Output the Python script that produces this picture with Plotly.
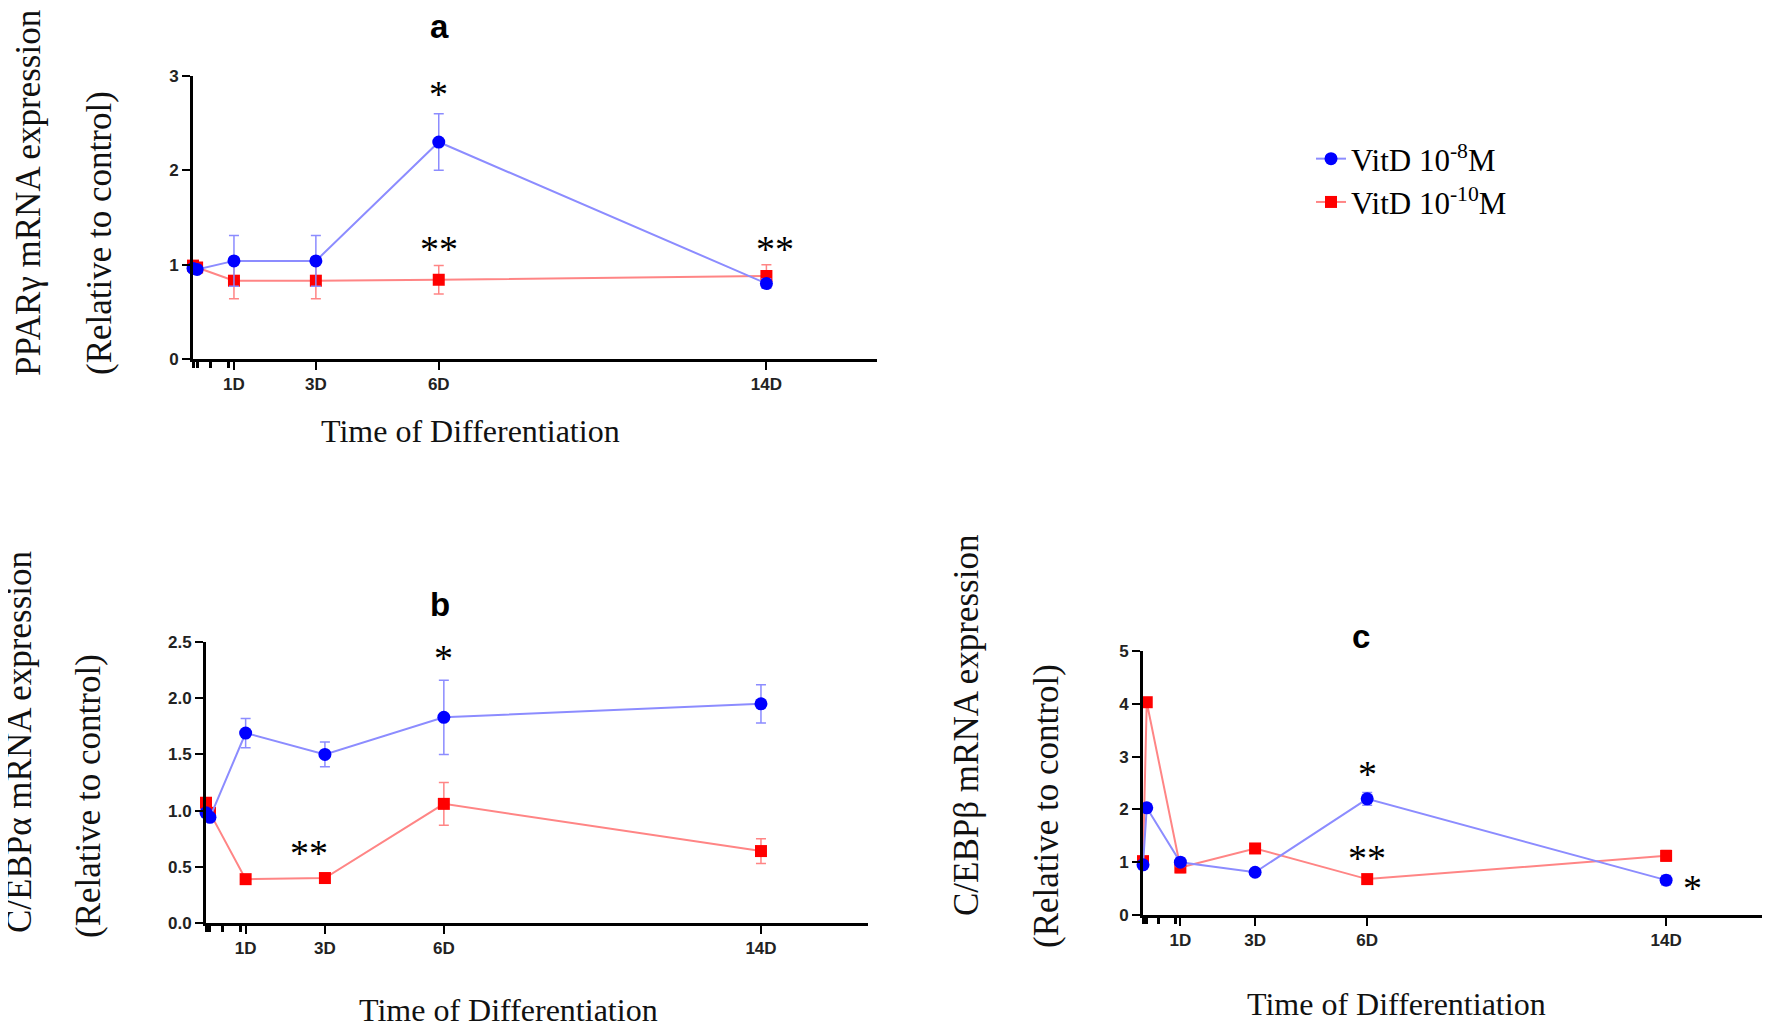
import plotly.graph_objects as go

# %%
# time points in days (first two are the early hour samples)
time_days = [0, 0.1, 1, 3, 6, 14]
tick_days = [1, 3, 6, 14]
tick_labels = ["1D", "3D", "6D", "14D"]
minor_days = [0, 0.1, 0.42, 0.87]

series_names = ["VitD 10<sup>-8</sup>M", "VitD 10<sup>-10</sup>M"]

# a: PPARg
pparg_high = [0.96, 0.95, 1.04, 1.04, 2.30, 0.80]
pparg_high_err = [0.02, 0.02, 0.27, 0.27, 0.30, 0.05]
pparg_low = [0.99, 0.97, 0.83, 0.83, 0.84, 0.88]
pparg_low_err = [0.02, 0.02, 0.19, 0.19, 0.15, 0.12]

# b: C/EBPa
cebpa_high = [0.98, 0.94, 1.69, 1.50, 1.83, 1.95]
cebpa_high_err = [0.02, 0.02, 0.13, 0.11, 0.33, 0.17]
cebpa_low = [1.07, 0.98, 0.39, 0.40, 1.06, 0.64]
cebpa_low_err = [0.02, 0.02, 0.02, 0.02, 0.19, 0.11]

# c: C/EBPb
cebpb_high = [0.95, 2.03, 1.00, 0.81, 2.20, 0.66]
cebpb_high_err = [0.03, 0.05, 0.08, 0.04, 0.12, 0.09]
cebpb_low = [1.02, 4.03, 0.90, 1.26, 0.68, 1.12]
cebpb_low_err = [0.03, 0.05, 0.10, 0.08, 0.04, 0.10]

# significance marks
sig_panel = ["a", "a", "a", "b", "b", "c", "c", "c"]
sig_x = [6, 6, 14.2, 6, 2.6, 6, 6, 14.7]
sig_y = [2.87, 1.23, 1.23, 2.41, 0.68, 2.79, 1.2, 0.63]
sig_text = ["*", "**", "**", "*", "**", "*", "**", "*"]

# %%
# page body has an 8px margin, so the figure is a bit smaller and offset
OFF = 8
W, H = 1770 - OFF, 1026 - OFF


def px(x):
    return (x - OFF) / W


def py(y):
    return 1 - (y - OFF) / H


BLUE, BLUE_LINE = "#0000ff", "#8c8cff"
RED, RED_LINE = "#ff0000", "#ff8585"
SERIF = "Liberation Serif"
SANS = "Liberation Sans"

panels = {
    "a": dict(xa="x", ya="y", high=pparg_high, high_err=pparg_high_err,
              low=pparg_low, low_err=pparg_low_err),
    "b": dict(xa="x2", ya="y2", high=cebpa_high, high_err=cebpa_high_err,
              low=cebpa_low, low_err=cebpa_low_err),
    "c": dict(xa="x3", ya="y3", high=cebpb_high, high_err=cebpb_high_err,
              low=cebpb_low, low_err=cebpb_low_err),
}

fig = go.Figure()

for key, p in panels.items():
    show = key == "a"
    # red first so the blue series sits on top
    fig.add_trace(go.Scatter(
        x=time_days, y=p["low"], name=series_names[1], legendrank=2,
        showlegend=show, mode="lines+markers", cliponaxis=False,
        xaxis=p["xa"], yaxis=p["ya"],
        line=dict(color=RED_LINE, width=2),
        marker=dict(symbol="square", size=12, color=RED),
        error_y=dict(type="data", array=p["low_err"], color=RED_LINE,
                     thickness=1.5, width=5),
    ))
    fig.add_trace(go.Scatter(
        x=time_days, y=p["high"], name=series_names[0], legendrank=1,
        showlegend=show, mode="lines+markers", cliponaxis=False,
        xaxis=p["xa"], yaxis=p["ya"],
        line=dict(color=BLUE_LINE, width=2),
        marker=dict(symbol="circle", size=13, color=BLUE),
        error_y=dict(type="data", array=p["high_err"], color=BLUE_LINE,
                     thickness=1.5, width=5),
    ))

xaxis_common = dict(
    range=[0, 16.7], showgrid=False, zeroline=False, showline=True,
    automargin=False,
    linecolor="black", linewidth=3, ticks="outside", ticklen=8, tickwidth=2,
    tickcolor="black", tickmode="array", tickvals=tick_days, ticktext=tick_labels,
    tickfont=dict(family=SANS, size=17, color="#222", weight="bold"),
    minor=dict(tickmode="array", tickvals=minor_days, ticks="outside",
               ticklen=6, tickwidth=3, tickcolor="black"),
)
yaxis_common = dict(
    showgrid=False, zeroline=False, showline=True, linecolor="black",
    automargin=False,
    linewidth=3, ticks="outside", ticklen=8, tickwidth=2, tickcolor="black",
    tickfont=dict(family=SANS, size=17, color="#222", weight="bold"),
)

fig.update_layout(
    template="simple_white",
    width=W, height=H,
    margin=dict(l=0, r=0, t=0, b=0, autoexpand=False),
    plot_bgcolor="white", paper_bgcolor="white",
    xaxis=dict(xaxis_common, domain=[px(193), px(877)], anchor="y"),
    yaxis=dict(yaxis_common, domain=[py(359), py(76)], anchor="x",
               range=[0, 3], tickvals=[0, 1, 2, 3]),
    xaxis2=dict(xaxis_common, domain=[px(206), px(868)], anchor="y2"),
    yaxis2=dict(yaxis_common, domain=[py(923), py(642)], anchor="x2",
                range=[0, 2.5], tickvals=[0, 0.5, 1, 1.5, 2, 2.5],
                tickformat=".1f"),
    xaxis3=dict(xaxis_common, domain=[px(1143), px(1767)], anchor="y3"),
    yaxis3=dict(yaxis_common, domain=[py(915), py(651)], anchor="x3",
                range=[0, 5], tickvals=[0, 1, 2, 3, 4, 5]),
    legend=dict(x=px(1311), y=py(132), xanchor="left", yanchor="top",
                font=dict(family=SERIF, size=31, color="black"),
                bgcolor="rgba(0,0,0,0)", itemwidth=30, tracegroupgap=0),
    showlegend=True,
)

# panel letters
for letter, (lx, ly) in {"a": (439, 27), "b": (440, 604), "c": (1361, 636)}.items():
    fig.add_annotation(text=letter, x=px(lx), y=py(ly), xref="paper", yref="paper",
                       xanchor="center", yanchor="middle", showarrow=False,
                       font=dict(family=SANS, size=33, color="black", weight="bold"))

# x titles
for tx, ty in [(471, 431), (508, 1010), (1396, 1004)]:
    fig.add_annotation(text="Time of Differentiation", x=px(tx), y=py(ty),
                       xref="paper", yref="paper", xanchor="center",
                       yanchor="middle", showarrow=False,
                       font=dict(family=SERIF, size=32, color="#111"))

# y titles (two lines each)
y_titles = [
    ("PPARγ mRNA expression", 28, 193),
    ("(Relative to control)", 100, 233),
    ("C/EBPα mRNA expression", 19, 742),
    ("(Relative to control)", 88, 796),
    ("C/EBPβ mRNA expression", 966, 725),
    ("(Relative to control)", 1046, 806),
]
for txt, tx, ty in y_titles:
    fig.add_annotation(text=txt, x=px(tx), y=py(ty), xref="paper", yref="paper",
                       xanchor="center", yanchor="middle", showarrow=False,
                       textangle=-90,
                       font=dict(family=SERIF, size=35, color="#111"))

# significance asterisks
for pan, sx, sy, st in zip(sig_panel, sig_x, sig_y, sig_text):
    p = panels[pan]
    fig.add_annotation(text=st, x=sx, y=sy, xref=p["xa"], yref=p["ya"],
                       xanchor="center", yanchor="middle",
                       showarrow=False, yshift=-6,
                       font=dict(family=SERIF, size=38, color="black"))

fig.write_html("out.html")
